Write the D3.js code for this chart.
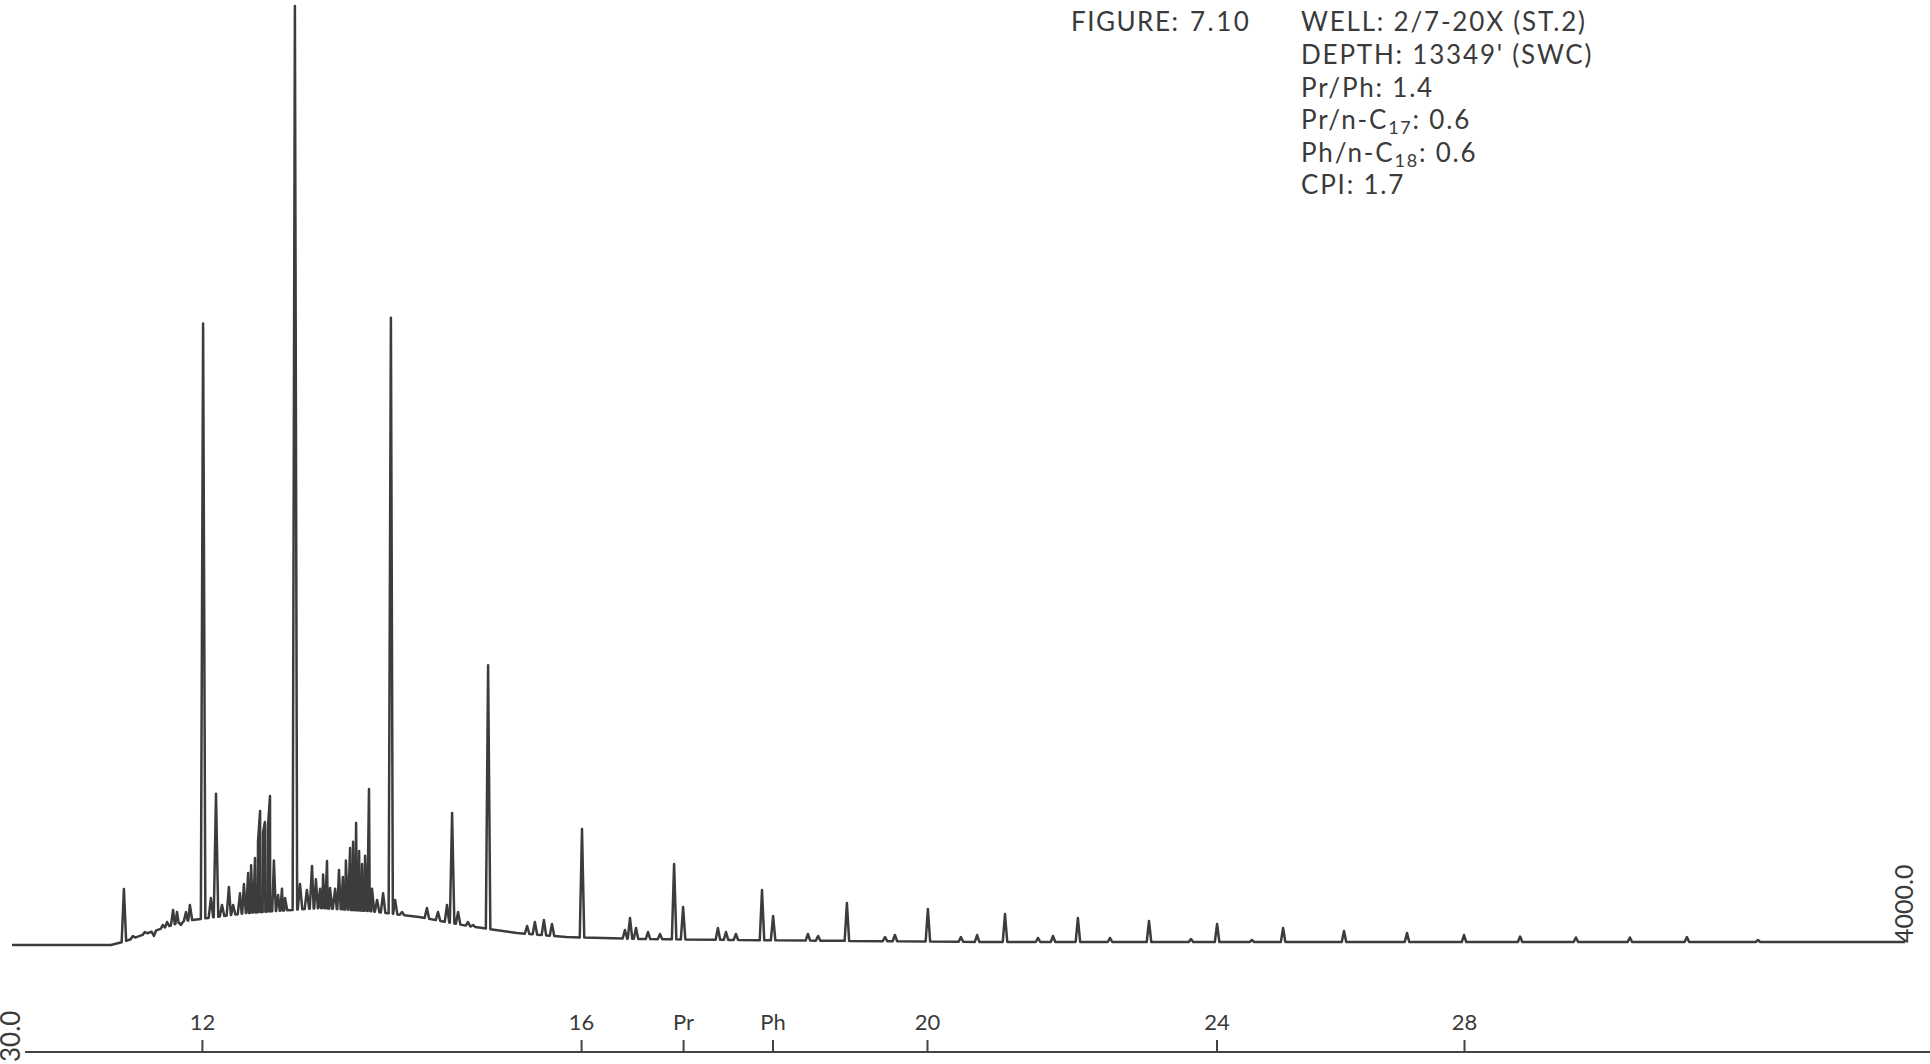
<!DOCTYPE html>
<html>
<head>
<meta charset="utf-8">
<script src="https://cdn.jsdelivr.net/npm/d3@7"></script>
<style>
  body { margin: 0; background: #fff; }
  svg { display: block; }
  text { font-family: Lato, "Open Sans", sans-serif; fill: #3a3a3a; }
</style>
</head>
<body>
<svg id="canvas" width="1930" height="1064"></svg>
<script>
// retention time (min) vs detector response (% of full scale)
let baseline = [[0, 0], [3.3, 0], [3.7, 0.32], [4.53, 1.28], [5.77, 2.56], [7.8, 3.4], [10.27, 3.94],
    [11.9, 3.62], [13.57, 2.98], [15.2, 2.02], [16.83, 1.28], [18.47, 0.85], [20.93, 0.64],
    [24.23, 0.53], [32.43, 0.32], [63.1, 0.32]]

// [time, apex height]
let peaks = [
    [3.73, 5.96], [4.03, 0.96], [4.43, 1.38], [4.73, 0.96], [5.03, 2.13], [5.17, 2.45], [5.37, 3.73],
    [5.50, 3.51], [5.63, 2.13], [5.80, 3.5], [5.93, 4.26], [6.37, 66.2], [6.63, 5.0], [6.80, 16.1],
    [7.00, 4.26], [7.23, 6.18], [7.37, 4.26], [7.60, 5.5], [7.73, 6.5], [7.87, 7.67], [7.97, 8.5],
    [8.10, 9.27], [8.20, 11.0], [8.27, 14.27], [8.37, 12.0], [8.43, 13.1], [8.53, 12.5], [8.60, 15.87],
    [8.73, 9.0], [8.87, 5.32], [9.00, 6.0], [9.10, 5.0], [9.43, 100], [9.60, 6.5], [9.83, 5.86],
    [10.00, 8.41], [10.13, 7.0], [10.27, 6.0], [10.37, 7.5], [10.50, 8.95], [10.60, 6.07],
    [10.77, 6.0], [10.90, 8.0], [11.03, 7.24], [11.13, 9.0], [11.27, 10.33], [11.37, 11.0],
    [11.47, 12.99], [11.57, 10.0], [11.67, 8.63], [11.77, 9.5], [11.90, 16.61], [12.00, 6.0],
    [12.17, 4.79], [12.37, 5.5], [12.63, 66.8], [12.77, 4.79], [13.00, 3.51], [13.83, 3.94],
    [14.20, 3.51], [14.50, 4.26], [14.67, 14.06], [14.87, 3.51], [15.20, 2.45], [15.37, 2.13],
    [15.87, 29.8], [17.17, 2.02], [17.43, 2.45], [17.73, 2.66], [18.00, 2.24], [19.00, 12.35],
    [20.43, 1.6], [20.60, 2.88], [20.80, 1.81], [21.20, 1.38], [21.60, 1.17], [22.07, 8.63],
    [22.37, 4.05], [23.53, 1.81], [23.80, 1.38], [24.13, 1.17], [25.00, 5.86], [25.37, 3.09],
    [26.53, 1.17], [26.87, 0.96], [27.83, 4.47], [29.10, 0.85], [29.43, 1.06], [30.53, 3.83],
    [31.63, 0.85], [32.17, 1.06], [33.10, 3.3], [34.20, 0.75], [34.70, 0.96], [35.53, 2.88],
    [36.60, 0.75], [37.90, 2.56], [39.30, 0.64], [40.17, 2.24], [41.33, 0.53], [42.37, 1.81],
    [44.40, 1.49], [46.50, 1.28], [48.40, 1.06], [50.27, 0.9], [52.13, 0.8], [53.93, 0.8],
    [55.83, 0.85], [58.20, 0.53]
]

let tickTimes = [6.33, 18.97, 22.37, 25.35, 30.5, 40.15, 48.4]
let tickLabels = ['12', '16', 'Pr', 'Ph', '20', '24', '28']

let canvas = d3.select('#canvas')

let xScale = d3.scaleLinear().domain([0, 63.1]).range([12, 1905])
let yScale = d3.scaleLinear().domain([0, 100]).range([945, 6])

let baseAt = d3.scaleLinear()
    .domain(baseline.map(d => d[0]))
    .range(baseline.map(d => d[1]))

let halfWidth = 0.075

let drawTrace = () => {
    let pts = baseline.filter(b => !peaks.some(p => Math.abs(p[0] - b[0]) < halfWidth))
    peaks.forEach(p => {
        pts.push([p[0] - halfWidth, baseAt(p[0] - halfWidth)])
        pts.push([p[0], p[1]])
        pts.push([p[0] + halfWidth, baseAt(p[0] + halfWidth)])
    })
    pts.sort((a, b) => a[0] - b[0])

    let line = d3.line()
        .x(d => xScale(d[0]))
        .y(d => yScale(d[1]))

    canvas.append('path')
        .attr('d', line(pts))
        .attr('fill', 'none')
        .attr('stroke', '#3c3c3c')
        .attr('stroke-width', 2.5)
        .attr('stroke-linejoin', 'round')
}

let drawAxis = () => {
    let axisY = 1052
    canvas.append('line')
        .attr('x1', 25).attr('x2', 1930)
        .attr('y1', axisY).attr('y2', axisY)
        .attr('stroke', '#444')
        .attr('stroke-width', 2)

    let axis = d3.axisTop(xScale)
        .tickValues(tickTimes)
        .tickFormat((d, i) => tickLabels[i])
        .tickSize(12)
        .tickPadding(10)
        .tickSizeOuter(0)

    let g = canvas.append('g')
        .attr('transform', `translate(0,${axisY})`)
        .call(axis)
    g.select('.domain').remove()
    g.selectAll('.tick line').attr('stroke', '#444').attr('stroke-width', 2)
    g.selectAll('.tick text')
        .attr('font-family', 'Lato, sans-serif')
        .attr('font-size', 22)
        .attr('fill', '#3a3a3a')

    canvas.append('text')
        .attr('transform', 'translate(20,1062) rotate(-90)')
        .attr('font-size', 26)
        .text('30.0')

    canvas.append('text')
        .attr('transform', 'translate(1913,943) rotate(-90)')
        .attr('font-size', 25)
        .text('4000.0')
}

let drawHeader = () => {
    let size = 26
    canvas.append('text').attr('x', 1071).attr('y', 31).attr('font-size', size).attr('letter-spacing', 1.5).text('FIGURE:')
    canvas.append('text').attr('x', 1190).attr('y', 31).attr('font-size', size).attr('letter-spacing', 2.5).text('7.10')

    let lines = [
        ['WELL: 2/7-20X (ST.2)'],
        ["DEPTH: 13349' (SWC)"],
        ['Pr/Ph: 1.4'],
        ['Pr/n-C', '17', ': 0.6'],
        ['Ph/n-C', '18', ': 0.6'],
        ['CPI: 1.7']
    ]
    let ys = [31, 64, 97, 129, 162, 194]
    lines.forEach((parts, i) => {
        let t = canvas.append('text')
            .attr('x', 1301).attr('y', ys[i])
            .attr('font-size', size)
            .attr('letter-spacing', 1.8)
        t.append('tspan').text(parts[0])
        if (parts.length > 1) {
            t.append('tspan').attr('dy', 5).attr('font-size', 18).text(parts[1])
            t.append('tspan').attr('dy', -5).attr('font-size', size).text(parts[2])
        }
    })
}

drawTrace()
drawAxis()
drawHeader()
</script>
</body>
</html>
